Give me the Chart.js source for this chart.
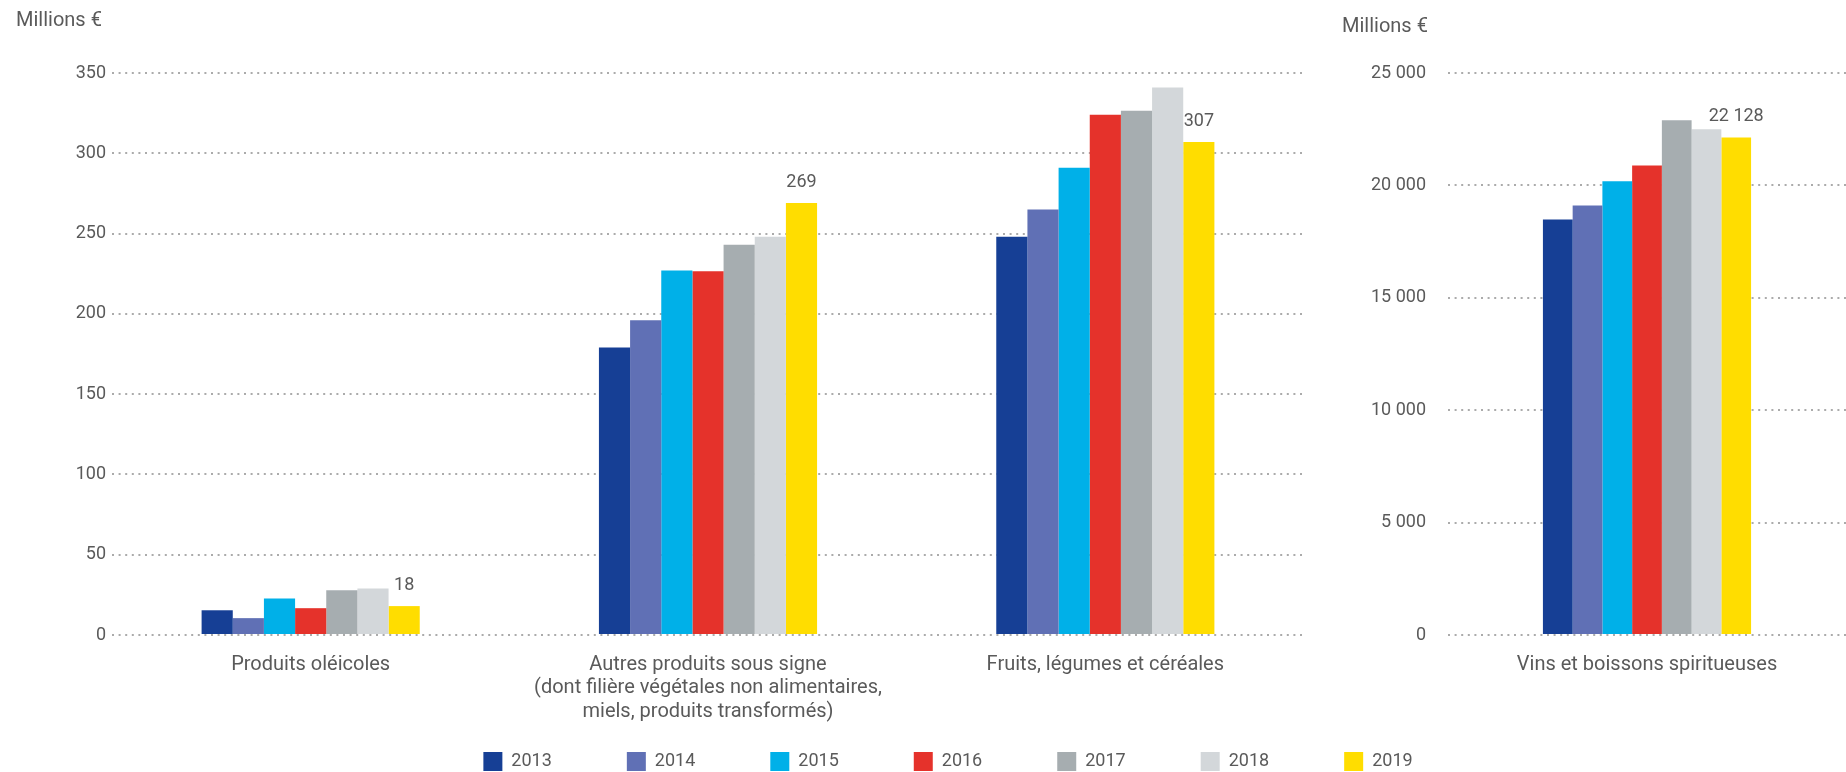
<!DOCTYPE html>
<html lang="fr">
<head>
<meta charset="utf-8">
<title>Ventes des produits sous signe de qualité</title>
<script src="https://cdn.jsdelivr.net/npm/chart.js@4.4.1/dist/chart.umd.min.js"></script>
<style>
  html, body { margin: 0; padding: 0; background: #fff; overflow: hidden; }
  #left { position: absolute; left: 0; top: 0; width: 1310px; height: 772px; }
  #right { position: absolute; left: 1310px; top: 0; width: 536px; height: 772px; }
  #legend { position: absolute; left: 0; top: 677px; width: 1846px; height: 95px; }
</style>
</head>
<body>
<div id="left"><canvas id="chartLeft"></canvas></div>
<div id="right"><canvas id="chartRight"></canvas></div>
<div id="legend"><canvas id="chartLegend"></canvas></div>
<script>
// data (millions of euros)
const years = ['2013', '2014', '2015', '2016', '2017', '2018', '2019'];
const categoriesLeft = [
  'Produits oléicoles',
  ['Autres produits sous signe', '(dont filière végétales non alimentaires,', 'miels, produits transformés)'],
  'Fruits, légumes et céréales'
];
const categoriesRight = ['Vins et boissons spiritueuses'];
const oleicoles = [15.4, 10.5, 22.8, 16.7, 27.8, 29, 18];
const autres = [179, 196, 227, 226.5, 243, 248, 269];
const fruits = [248, 265, 291, 324, 326.5, 341, 307];
const vins = [18480, 19110, 20180, 20890, 22900, 22500, 22128];
const ticksLeft = [0, 50, 100, 150, 200, 250, 300, 350];
const ticksRight = [0, 5000, 10000, 15000, 20000, 25000];

const colors = ['#163f95', '#6070b5', '#00b0e8', '#e5322b', '#a6adb0', '#d3d7da', '#ffdd00'];
const textColor = '#5a5a5a';

Chart.defaults.font.family = 'Roboto';
Chart.defaults.font.size = 18;
Chart.defaults.color = textColor;

function fmt(v) {
  return String(Math.round(v)).replace(/\B(?=(\d{3})+(?!\d))/g, ' ');
}

// value of the last year written above its bars
const valueLabels = {
  id: 'valueLabels',
  afterDatasetsDraw(chart) {
    const ctx = chart.ctx;
    const last = chart.data.datasets.length - 1;
    const meta = chart.getDatasetMeta(last);
    ctx.save();
    ctx.font = '18px Roboto';
    ctx.fillStyle = textColor;
    ctx.textAlign = 'center';
    ctx.textBaseline = 'middle';
    meta.data.forEach((bar, i) => {
      ctx.fillText(fmt(chart.data.datasets[last].data[i]), bar.x, bar.y - 21);
    });
    ctx.restore();
  }
};

function yScale(ticks, width, pad) {
  return {
    min: ticks[0],
    max: ticks[ticks.length - 1],
    ticks: { stepSize: ticks[1] - ticks[0], padding: pad, callback: v => fmt(v) },
    grid: { color: '#ababab', lineWidth: 2, drawTicks: false },
    border: { display: false, dash: [2, 4.6] },
    afterFit: s => { s.width = width; }
  };
}

const xScale = {
  grid: { display: false, drawTicks: false },
  border: { display: false },
  ticks: { padding: 18, font: { size: 20, lineHeight: 1.18 }, maxRotation: 0, autoSkip: false },
  afterFit: s => { s.height = 137; }
};

function titleOpts(top, bottom) {
  return {
    display: true,
    text: 'Millions €',
    align: 'start',
    color: textColor,
    font: { size: 20, weight: 'normal', lineHeight: 1.2 },
    padding: { top: top, bottom: bottom }
  };
}

const leftSeries = years.map((y, i) => [oleicoles[i], autres[i], fruits[i]]);

new Chart(document.getElementById('chartLeft'), {
  type: 'bar',
  data: {
    labels: categoriesLeft,
    datasets: years.map((y, i) => ({
      label: y,
      data: leftSeries[i],
      backgroundColor: colors[i],
      categoryPercentage: 0.549,
      barPercentage: 1.0
    }))
  },
  options: {
    responsive: true,
    maintainAspectRatio: false,
    animation: false,
    layout: { padding: { left: 16, right: 6, top: 0, bottom: 0 } },
    plugins: {
      title: titleOpts(9, 40),
      legend: { display: false },
      tooltip: { enabled: false }
    },
    scales: { x: xScale, y: yScale(ticksLeft, 96, 6) }
  },
  plugins: [valueLabels]
});

new Chart(document.getElementById('chartRight'), {
  type: 'bar',
  data: {
    labels: categoriesRight,
    datasets: years.map((y, i) => ({
      label: y,
      data: [vins[i]],
      backgroundColor: colors[i],
      categoryPercentage: 0.523,
      barPercentage: 1.0
    }))
  },
  options: {
    responsive: true,
    maintainAspectRatio: false,
    animation: false,
    layout: { padding: { left: 32, right: 0, top: 0, bottom: 0 } },
    plugins: {
      title: titleOpts(15, 34),
      legend: { display: false },
      tooltip: { enabled: false }
    },
    scales: { x: xScale, y: yScale(ticksRight, 106, 22) }
  },
  plugins: [valueLabels]
});

// one legend shared by both panels
new Chart(document.getElementById('chartLegend'), {
  type: 'bar',
  data: {
    labels: [],
    datasets: years.map((y, i) => ({ label: y, data: [], backgroundColor: colors[i] }))
  },
  options: {
    responsive: true,
    maintainAspectRatio: false,
    animation: false,
    events: [],
    layout: { padding: { left: 50 } },
    plugins: {
      legend: {
        position: 'top',
        maxHeight: 95,
        labels: { boxWidth: 19, boxHeight: 19, padding: 75, color: textColor, font: { size: 18 } }
      },
      tooltip: { enabled: false }
    },
    scales: { x: { display: false }, y: { display: false } }
  }
});
</script>
</body>
</html>
